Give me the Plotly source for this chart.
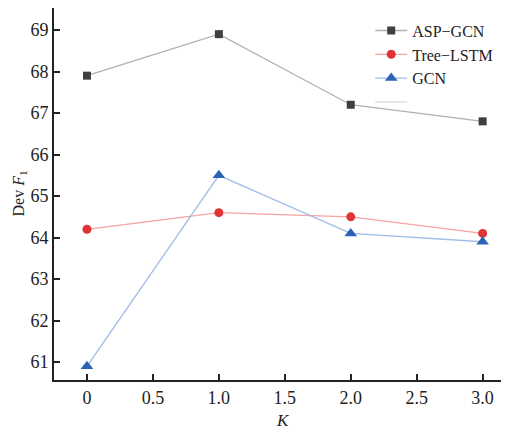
import plotly.graph_objects as go

K = [0, 1.0, 2.0, 3.0]
asp_gcn = [67.9, 68.9, 67.2, 66.8]
tree_lstm = [64.2, 64.6, 64.5, 64.1]
gcn = [60.9, 65.5, 64.1, 63.9]
x_ticks = [0, 0.5, 1.0, 1.5, 2.0, 2.5, 3.0]
x_ticktext = ["0", "0.5", "1.0", "1.5", "2.0", "2.5", "3.0"]
y_ticks = [61, 62, 63, 64, 65, 66, 67, 68, 69]

fig = go.Figure()
fig.add_trace(go.Scatter(x=K, y=asp_gcn, name="ASP−GCN", mode="lines+markers",
                         line=dict(color="#b0b0b0", width=1.3),
                         marker=dict(symbol="square", size=8, color="#3f3f3f")))
fig.add_trace(go.Scatter(x=K, y=tree_lstm, name="Tree−LSTM", mode="lines+markers",
                         line=dict(color="#f5a3a3", width=1.3),
                         marker=dict(symbol="circle", size=9, color="#e03434")))
fig.add_trace(go.Scatter(x=K, y=gcn, name="GCN", mode="lines+markers",
                         line=dict(color="#9fbde8", width=1.3),
                         marker=dict(symbol="triangle-up", size=11, color="#2a62b5")))
# empty legend entry (grey line) as shown in the reference legend
fig.add_trace(go.Scatter(x=[-10, -9], y=[0, 0], name=" ", mode="lines",
                         line=dict(color="#d8d8d8", width=1.3), hoverinfo="skip"))

# the page body has an 8px margin, so the figure is sized/offset to compensate
fig.update_layout(
    width=501, height=425,
    margin=dict(l=46, r=0, t=0, b=53),
    paper_bgcolor="white", plot_bgcolor="white",
    font=dict(family="Liberation Serif", size=18, color="#222"),
    showlegend=True,
    legend=dict(x=0.695, y=0.985, xanchor="left", yanchor="top",
                bgcolor="rgba(0,0,0,0)", font=dict(size=16),
                tracegroupgap=0, itemwidth=32),
    annotations=[
        dict(text="<i>K</i>", xref="paper", yref="paper", x=0.503, y=-0.108,
             xanchor="center", yanchor="middle", showarrow=False, font=dict(size=17)),
        dict(text="Dev <i>F</i><sub>1</sub>", xref="paper", yref="paper", x=-0.078, y=0.5,
             xanchor="center", yanchor="middle", showarrow=False, textangle=-90,
             font=dict(size=16)),
    ],
)
fig.update_xaxes(range=[-0.25, 3.2], tickvals=x_ticks, ticktext=x_ticktext,
                 showline=True, linecolor="#222", linewidth=2, ticks="inside",
                 ticklen=6, tickwidth=2, tickcolor="#222", showgrid=False, zeroline=False,
                 automargin=False)
fig.update_yaxes(range=[60.57, 69.53], tickvals=y_ticks,
                 showline=True, linecolor="#222", linewidth=2, ticks="inside",
                 ticklen=6, tickwidth=2, tickcolor="#222", showgrid=False, zeroline=False,
                 automargin=False)

fig.write_html("out.html")
